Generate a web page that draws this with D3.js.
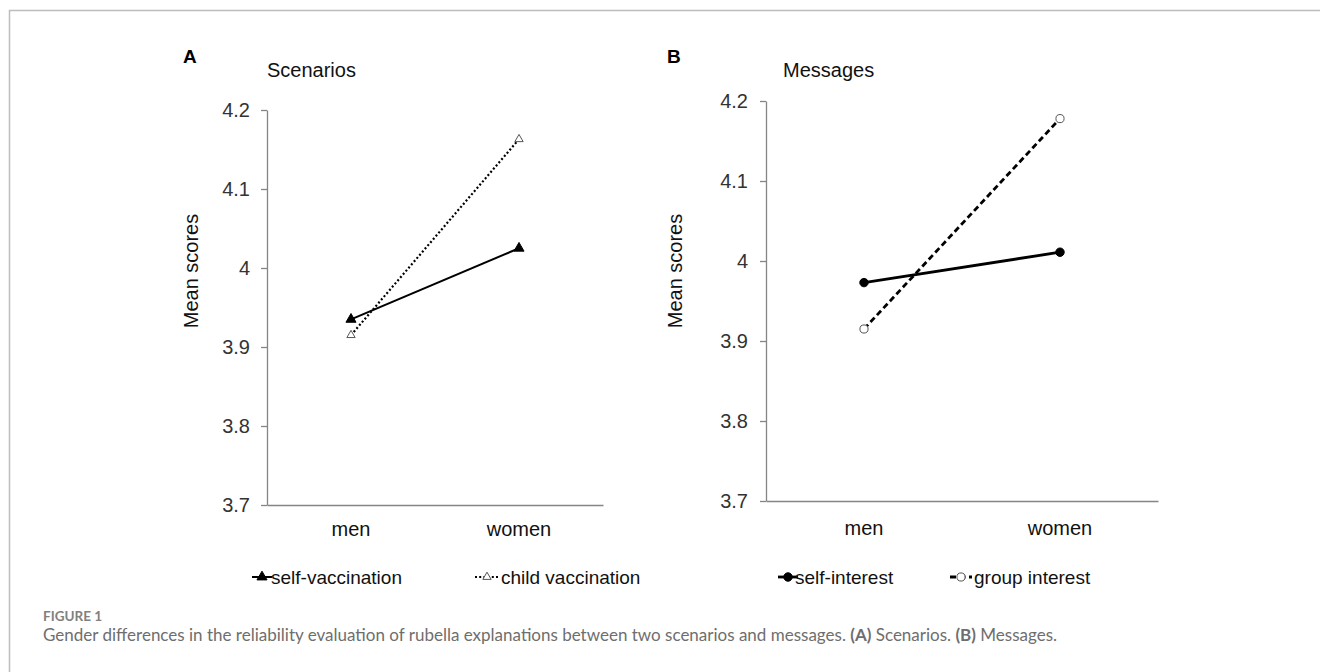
<!DOCTYPE html>
<html>
<head>
<meta charset="utf-8">
<script src="https://cdn.jsdelivr.net/npm/d3@7"></script>
<style>
  html, body { margin: 0; padding: 0; background: #fff; }
  svg { display: block; }
</style>
</head>
<body>
<svg id="fig" width="1320" height="672"></svg>
<script>
// Mean reliability scores by gender
const genders = ["men", "women"];
const yTicks = [3.7, 3.8, 3.9, 4.0, 4.1, 4.2];

// Panel A: scenarios
const selfVaccination = [3.935, 4.025];
const childVaccination = [3.915, 4.163];

// Panel B: messages
const selfInterest = [3.973, 4.011];
const groupInterest = [3.915, 4.178];

const svg = d3.select("#fig");
const chartFont = "'Liberation Sans', Arial, sans-serif";
const captionFont = "Lato, 'Open Sans', sans-serif";

// page frame (top and left rule)
svg.append("path")
  .attr("d", "M9.5,672 V10.5 H1320")
  .attr("fill", "none")
  .attr("stroke", "#bdbdbd")
  .attr("stroke-width", 1.5);

const triangle = d3.symbol().type(d3.symbolTriangle);
const circle = d3.symbol().type(d3.symbolCircle);

function marker(g, kind, filled, x, y) {
  const gen = kind === "triangle" ? triangle.size(filled ? 44 : 30) : circle.size(filled ? 56 : 52);
  g.append("path")
    .attr("d", gen())
    .attr("transform", `translate(${x},${y})`)
    .attr("fill", filled ? "#000" : "#fff")
    .attr("stroke", filled ? "#000" : "#555")
    .attr("stroke-width", 1);
}

function panel(cfg) {
  const g = svg.append("g");
  const x = d3.scaleBand().domain(genders).range([cfg.left, cfg.right]);
  const y = d3.scaleLinear().domain([3.7, 4.2]).range([cfg.bottom, cfg.top]);

  // panel letter and title
  g.append("text").attr("x", cfg.letterX).attr("y", 63)
    .attr("font-family", chartFont).attr("font-weight", "bold")
    .attr("font-size", 19).attr("fill", "#000").text(cfg.letter);
  g.append("text").attr("x", cfg.titleX).attr("y", 77)
    .attr("font-family", chartFont).attr("font-size", 20)
    .attr("fill", "#111").text(cfg.title);

  // y axis
  const yAxis = d3.axisLeft(y).tickValues(yTicks).tickSize(6).tickSizeOuter(0)
    .tickPadding(cfg.tickPad)
    .tickFormat(d => Math.abs(d - 4) < 1e-9 ? "4" : d3.format(".1f")(d));
  const ya = g.append("g").attr("transform", `translate(${cfg.left},0)`).call(yAxis);
  ya.select(".domain").attr("stroke", "#858585").attr("stroke-width", 1.3);
  ya.selectAll(".tick line").attr("stroke", "#858585").attr("stroke-width", 1.3);
  ya.selectAll(".tick text").attr("font-family", chartFont)
    .attr("font-size", 20).attr("fill", "#333");

  // x axis
  const xAxis = d3.axisBottom(x).tickSize(0).tickSizeOuter(0).tickPadding(cfg.xPad);
  const xa = g.append("g").attr("transform", `translate(0,${cfg.bottom})`).call(xAxis);
  xa.select(".domain").attr("stroke", "#858585").attr("stroke-width", 1.5);
  xa.selectAll(".tick text").attr("font-family", chartFont)
    .attr("font-size", 20).attr("fill", "#111");

  // y axis title
  g.append("text")
    .attr("transform", `translate(${cfg.yTitleX},271) rotate(-90)`)
    .attr("text-anchor", "middle")
    .attr("font-family", chartFont).attr("font-size", 20).attr("fill", "#111")
    .text("Mean scores");

  const line = d3.line().x((d, i) => x(genders[i]) + x.bandwidth() / 2).y(d => y(d));

  cfg.series.forEach(s => {
    g.append("path").datum(s.values)
      .attr("d", line)
      .attr("fill", "none")
      .attr("stroke", "#000")
      .attr("stroke-width", s.width)
      .attr("stroke-dasharray", s.dash);
  });
  cfg.series.forEach(s => {
    s.values.forEach((v, i) => marker(g, cfg.shape, s.filled,
      x(genders[i]) + x.bandwidth() / 2, y(v)));
  });

  // legend
  cfg.series.forEach(s => {
    const lg = g.append("g");
    lg.append("line")
      .attr("x1", s.legendX - s.half).attr("x2", s.legendX + s.half)
      .attr("y1", 577).attr("y2", 577)
      .attr("stroke", "#000").attr("stroke-width", s.width)
      .attr("stroke-dasharray", s.dash);
    marker(lg, cfg.shape, s.filled, s.legendX, 577);
    lg.append("text").attr("x", s.legendX + s.textGap).attr("y", 584)
      .attr("font-family", chartFont).attr("font-size", 19).attr("fill", "#111")
      .text(s.name);
  });
}

panel({
  letter: "A", letterX: 183, title: "Scenarios", titleX: 267,
  left: 267, right: 603, top: 110, bottom: 505, yTitleX: 198,
  tickPad: 11, xPad: 17,
  shape: "triangle",
  series: [
    { name: "self-vaccination", values: selfVaccination, filled: true, width: 2, dash: null, legendX: 262, half: 10, textGap: 9 },
    { name: "child vaccination", values: childVaccination, filled: false, width: 2.2, dash: "2,2.2", legendX: 487, half: 12, textGap: 14 }
  ]
});

panel({
  letter: "B", letterX: 667, title: "Messages", titleX: 783,
  left: 766, right: 1158, top: 101, bottom: 501, yTitleX: 682,
  tickPad: 12, xPad: 20,
  shape: "circle",
  series: [
    { name: "self-interest", values: selfInterest, filled: true, width: 2.8, dash: null, legendX: 788, half: 10, textGap: 7 },
    { name: "group interest", values: groupInterest, filled: false, width: 2.8, dash: "6,3.5", legendX: 961, half: 11, textGap: 13 }
  ]
});

// caption
svg.append("text").attr("x", 43).attr("y", 621)
  .attr("font-family", captionFont).attr("font-weight", "bold")
  .attr("font-size", 13.5).attr("fill", "#808080").text("FIGURE 1");
const cap = svg.append("text").attr("x", 43).attr("y", 641)
  .attr("font-family", captionFont).attr("font-size", 17).attr("fill", "#6e6e6e");
cap.append("tspan").text("Gender differences in the reliability evaluation of rubella explanations between two scenarios and messages. ");
cap.append("tspan").attr("font-weight", "bold").text("(A)");
cap.append("tspan").text(" Scenarios. ");
cap.append("tspan").attr("font-weight", "bold").text("(B)");
cap.append("tspan").text(" Messages.");
</script>
</body>
</html>
